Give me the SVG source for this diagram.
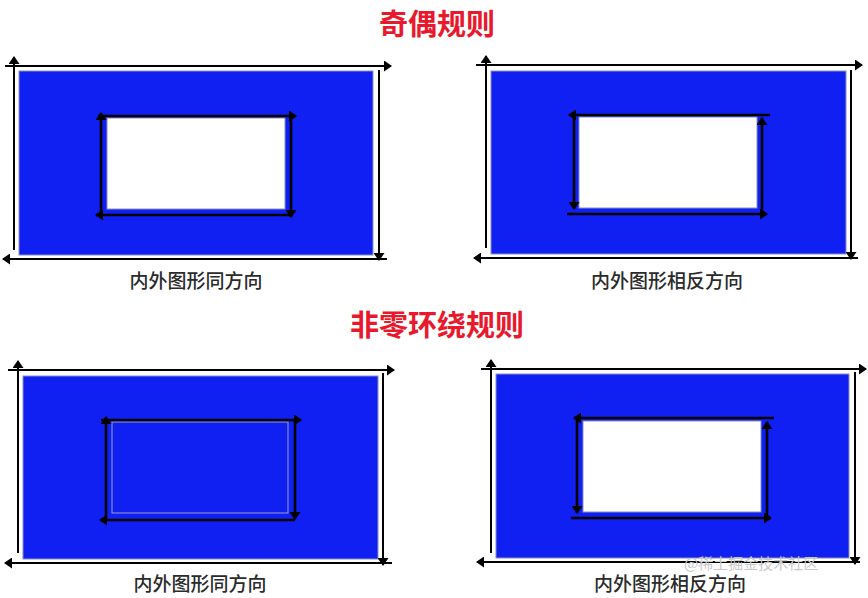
<svg xmlns="http://www.w3.org/2000/svg" width="868" height="598" viewBox="0 0 868 598">
<style>
.title{font-family:"Noto Sans CJK SC",sans-serif;font-size:29px;font-weight:bold;fill:#e8192c;text-anchor:middle}
.label{font-family:"Noto Sans CJK SC",sans-serif;font-size:19px;font-weight:500;fill:#2b2b2b;text-anchor:middle}
.wm{font-family:"Noto Sans CJK SC",sans-serif;font-size:15px;fill:#c9c9c9}
.blue{fill:#1020f2;stroke:#8a90b8;stroke-width:1}
.hole{fill:#ffffff;stroke:#8a90b8;stroke-width:1}
.hole2{fill:#1020f2;stroke:#9a9ec0;stroke-width:1}
.a{fill:none;stroke:#000;stroke-width:2;marker-end:url(#ah)}
.b{fill:none;stroke:#000;stroke-width:2.6;marker-end:url(#ah)}
</style>
<defs>
<marker id="ah" viewBox="0 0 8 11" markerWidth="8" markerHeight="11" refX="7" refY="5.5" orient="auto" markerUnits="userSpaceOnUse">
<path d="M0,0 L8,5.5 L0,11 z" fill="#000"/>
</marker>
</defs>
<rect width="868" height="598" fill="#ffffff"/>
<text class="title" x="437" y="35">奇偶规则</text>
<text class="title" x="437" y="336">非零环绕规则</text>

<g id="panel-evenodd-same">
<rect class="blue" x="19" y="71" width="354" height="184"/>
<rect class="hole" x="107" y="118" width="178" height="91"/>
<text class="label" x="196" y="288">内外图形同方向</text>
</g>
<g id="panel-evenodd-opposite">
<rect class="blue" x="491" y="71" width="355" height="183"/>
<rect class="hole" x="579" y="117" width="178" height="91"/>
<text class="label" x="667" y="288">内外图形相反方向</text>
</g>
<g id="panel-nonzero-same">
<rect class="blue" x="23" y="376" width="355" height="183"/>
<rect class="hole2" x="112" y="422" width="176" height="91"/>
<text class="label" x="200" y="591">内外图形同方向</text>
</g>
<g id="panel-nonzero-opposite">
<rect class="blue" x="496" y="374" width="353" height="184"/>
<rect class="hole" x="583" y="421" width="178" height="91"/>
<text class="label" x="670" y="591">内外图形相反方向</text>
</g>

<g id="connectors">
<path class="a" d="M5,66 L391,66"/>
<path class="a" d="M379,70 L379,260"/>
<path class="a" d="M387,259 L3,259"/>
<path class="a" d="M14,250 L14,57"/>
<path class="b" d="M98,116 L296,116"/>
<path class="b" d="M291,116 L291,217"/>
<path class="b" d="M291,215 L96,215"/>
<path class="b" d="M101,215 L101,113"/>

<path class="a" d="M476,65 L862,65"/>
<path class="a" d="M851,70 L851,259"/>
<path class="a" d="M858,258 L474,258"/>
<path class="a" d="M486,248 L486,56"/>
<path class="b" d="M770,115 L569,115"/>
<path class="b" d="M574,115 L574,209"/>
<path class="b" d="M567,214 L767,214"/>
<path class="b" d="M762,214 L762,118"/>

<path class="a" d="M8,370 L394,370"/>
<path class="a" d="M383,373 L383,565"/>
<path class="a" d="M392,563 L5,563"/>
<path class="a" d="M18,553 L18,361"/>
<path class="b" d="M101,420 L301,420"/>
<path class="b" d="M295,420 L295,519"/>
<path class="b" d="M295,520 L100,520"/>
<path class="b" d="M106,520 L106,417"/>

<path class="a" d="M481,369 L866,369"/>
<path class="a" d="M855,372 L855,564"/>
<path class="a" d="M860,562 L477,562"/>
<path class="a" d="M491,553 L491,360"/>
<path class="b" d="M774,418 L574,418"/>
<path class="b" d="M577,418 L577,513"/>
<path class="b" d="M571,518 L771,518"/>
<path class="b" d="M767,518 L767,422"/>
</g>
<text class="wm" x="684" y="569">@稀土掘金技术社区</text>
</svg>
